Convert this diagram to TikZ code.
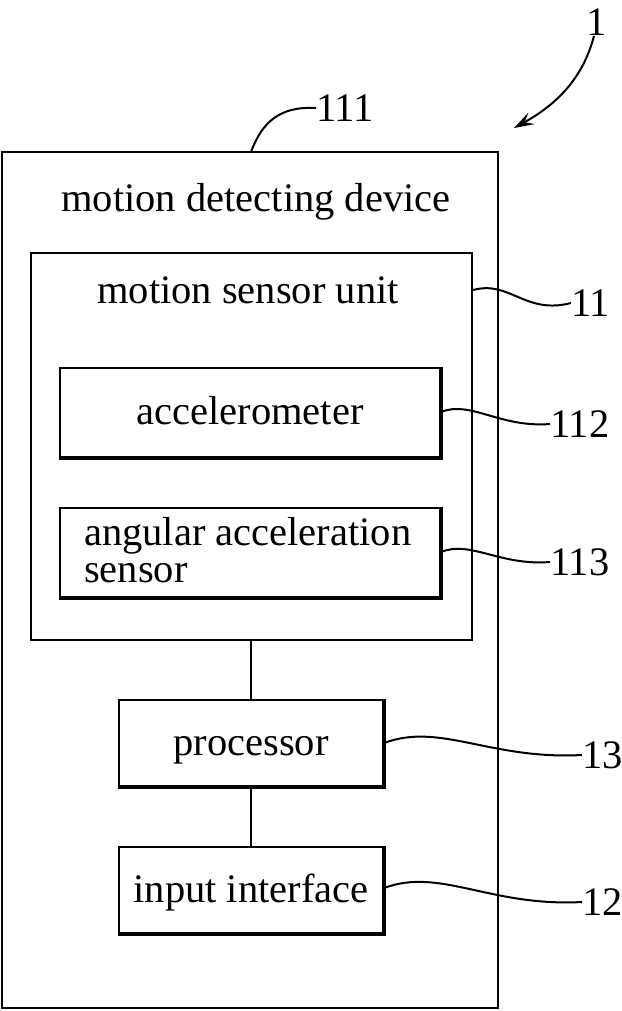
\documentclass[tikz,border=0pt]{standalone}
\usepackage{fontspec}
\setmainfont{Liberation Serif}
\usetikzlibrary{arrows.meta}
\begin{document}
\begin{tikzpicture}[x=1pt,y=-1pt,
  box/.style={draw, line width=2.2pt, rectangle, inner sep=0pt},
  tbox/.style={box, text height=32pt, text depth=8pt},
  lbl/.style={font=\fontsize{40.5}{36}\selectfont, inner sep=0pt},
  lead/.style={line width=2pt},
  every node/.append style={font=\fontsize{40.5}{36}\selectfont}]
\useasboundingbox (0,0) rectangle (621,1011);
% outer device
\node[box, minimum width=496, minimum height=856] (dev) at (250,580) {};
\node[lbl] (devt) at (256,202) {motion detecting device};
% motion sensor unit
\node[box, minimum width=441, minimum height=387] (msu) at (251.5,446.5) {};
\node[lbl] (msut) at (248,290) {motion sensor unit};
% accelerometer
\node[tbox, minimum width=380, minimum height=89] (acc) at (250,412.5) {accelerometer};
% angular acceleration sensor
\node[box, minimum width=380, minimum height=89] (ang) at (250,552.5) {};
\node[lbl, align=left, anchor=west, font=\fontsize{40.5}{37}\selectfont] (angt) at (84,550) {angular acceleration\\sensor};
% processor
\node[tbox, minimum width=264, minimum height=86] (proc) at (251,743) {processor};
% input interface
\node[tbox, minimum width=264, minimum height=86] (inp) at (251,890) {input interface};
% heavier right and bottom edges
\foreach \n in {acc,ang,proc,inp}
  \draw[line width=2.2pt] ([shift={(1.2,0)}]\n.north east) -- ([shift={(1.2,1.2)}]\n.south east) -- ([shift={(0,1.2)}]\n.south west);
% connectors
\draw[line width=2pt] (proc.north |- msu.south) -- (proc.north);
\draw[line width=2pt] (proc.south) -- (inp.north);
% reference labels
\node[lbl, anchor=west] (l111) at (316,108) {111};
\node[lbl] (l1) at (597,22) {1};
\node[lbl, anchor=west] (l11) at (571,303) {11};
\node[lbl, anchor=west] (l112) at (550,424) {112};
\node[lbl, anchor=west] (l113) at (550,562) {113};
\node[lbl, anchor=west] (l13) at (582,755) {13};
\node[lbl, anchor=west] (l12) at (582,902) {12};
\coordinate (c111) at (251,152);
\coordinate (c11) at (msu.east |- 0,290);
\coordinate (c112) at (acc.east |- 0,412);
\coordinate (c113) at (ang.east |- 0,552);
\coordinate (c13) at (proc.east |- 0,743);
\coordinate (c12) at (inp.east |- 0,888);
\coordinate (a1) at (594,36);
\coordinate (a1tip) at (514,128);
% leaders
\draw[lead] (c111) .. controls (262,122) and (280,106) .. (l111.west);
\draw[lead] (c11) .. controls (510,280) and (525,315) .. (l11.west);
\draw[lead] (c112) .. controls (470,400) and (500,428) .. (l112.west);
\draw[lead] (c113) .. controls (470,540) and (500,566) .. (l113.west);
\draw[lead] (c13) .. controls (440,722) and (490,760) .. (l13.west);
\draw[lead] (c12) .. controls (440,867) and (490,907) .. (l12.west);
\draw[lead, -{Stealth[length=20pt,width=13pt,inset=8pt]}] (a1) .. controls (585,70) and (565,100) .. (a1tip);
\end{tikzpicture}
\end{document}
